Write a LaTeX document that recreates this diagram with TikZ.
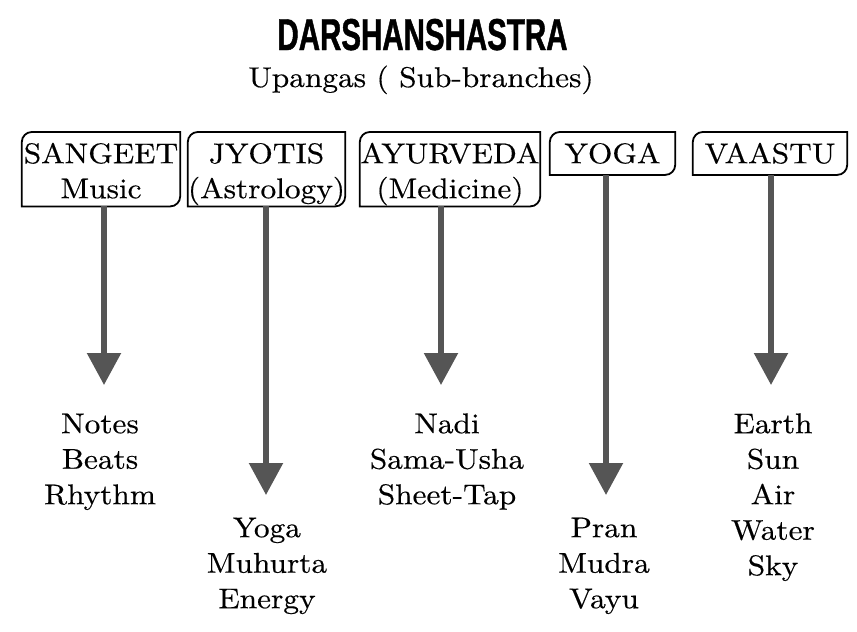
\documentclass[tikz,border=0pt]{standalone}
\usepackage{fontspec}
\usetikzlibrary{arrows.meta,positioning}
\newfontfamily\headfont[FakeStretch=0.66,FakeBold=1]{Liberation Sans}
\newfontfamily\bodyfont[FakeStretch=1.1,FakeBold=0.4]{lmroman10-regular.otf}
\definecolor{arrowgray}{HTML}{555555}
\tikzset{
  headline/.style = {
    anchor=base,
    inner sep=0pt,
    font=\headfont\bfseries\fontsize{44.7}{50}\selectfont
  },
  subline/.style = {
    anchor=base,
    inner sep=0pt,
    font=\bodyfont\fontsize{28.5}{35}\selectfont
  },
  branchbox/.style = {
    align=center,
    anchor=north,
    inner xsep=0pt,
    inner ysep=11.5pt,
    text height=19.5pt,
    text depth=0pt,
    font=\bodyfont\fontsize{28.5}{35}\selectfont
  },
  twoline/.style = {
    text depth=31.5pt
  },
  boxline/.style = {
    line width=1.8pt
  },
  itemlist/.style = {
    align=center,
    anchor=north,
    inner sep=0pt,
    text width=160pt,
    text height=19.5pt,
    font=\bodyfont\fontsize{28.5}{35.5}\selectfont
  },
  branchlink/.style = {
    -{Triangle[width=33pt,length=32pt]},
    line width=5.5pt,
    draw=arrowgray
  }
}
\begin{document}
\begin{tikzpicture}[x=1pt,y=-1pt]
    \useasboundingbox (0,0) rectangle (857,632);
    \node[headline] (title) at (422.5,50) {DARSHANSHASTRA};
    \node[subline] (subtitle) at (421,87) {Upangas ( Sub-branches)};
    \node[branchbox, twoline, text width=158pt] (sangeet) at (101,132) {SANGEET\\Music};
    \node[branchbox, twoline, text width=157pt] (jyotis) at (266.5,132) {JYOTIS\\(Astrology)};
    \node[branchbox, twoline, text width=180pt] (ayurveda) at (450,132) {AYURVEDA\\(Medicine)};
    \node[branchbox, text width=125pt] (yoga) at (612.5,132) {YOGA};
    \node[branchbox, text width=154pt] (vaastu) at (770,132) {VAASTU};
    \foreach \n in {sangeet,jyotis,ayurveda,yoga,vaastu}
      \draw[boxline] ([xshift=10pt]\n.north west) -- (\n.north east)
        -- ([yshift=10pt]\n.south east) arc[start angle=0,end angle=-90,radius=10pt]
        -- (\n.south west) -- ([yshift=-10pt]\n.north west)
        arc[start angle=180,end angle=90,radius=10pt] -- cycle;
    \coordinate (sangeettip) at (104,385);
    \coordinate (jyotistip) at (266,495);
    \coordinate (ayurvedatip) at (441,385);
    \coordinate (yogatip) at (606,495);
    \coordinate (vaastutip) at (771,385);
    \node[itemlist] (music) at (100,413.5) {Notes\\Beats\\Rhythm};
    \node[itemlist] (astro) at (267,517.5) {Yoga\\Muhurta\\Energy};
    \node[itemlist] (medicine) at (447,413.5) {Nadi\\Sama-Usha\\Sheet-Tap};
    \node[itemlist] (practice) at (604,517.5) {Pran\\Mudra\\Vayu};
    \node[itemlist] (elements) at (773,413.5) {Earth\\Sun\\Air\\Water\\Sky};
    \draw[branchlink] (sangeet.south -| sangeettip) -- (sangeettip);
    \draw[branchlink] (jyotis.south -| jyotistip) -- (jyotistip);
    \draw[branchlink] (ayurveda.south -| ayurvedatip) -- (ayurvedatip);
    \draw[branchlink] (yoga.south -| yogatip) -- (yogatip);
    \draw[branchlink] (vaastu.south -| vaastutip) -- (vaastutip);
  \end{tikzpicture}
\end{document}
